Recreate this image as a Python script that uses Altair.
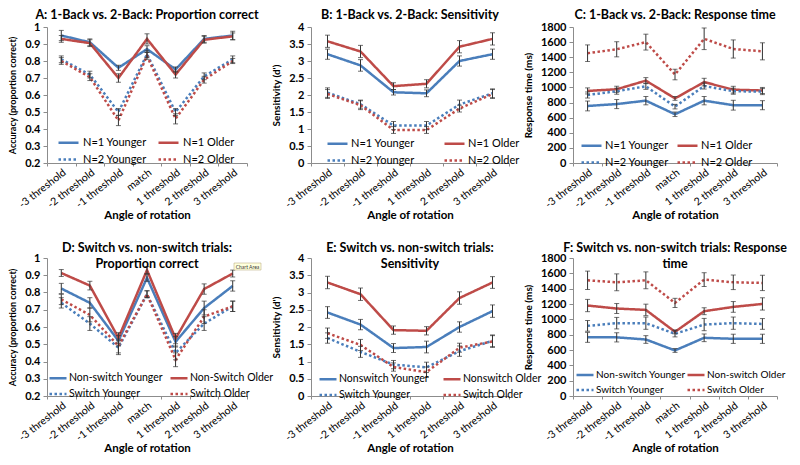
import altair as alt
import pandas as pd

FONT = "Lato"
BLUE = "#4a7ebb"
RED = "#be4b48"
ERRC = "#333333"

CATS7 = ["-3 threshold", "-2 threshold", "-1 threshold", "match", "1 threshold", "2 threshold", "3 threshold"]
CATS6 = ["-3 threshold", "-2 threshold", "-1 threshold", "1 threshold", "2 threshold", "3 threshold"]

# ---------- Panel A: 1-Back vs 2-Back, proportion correct ----------
A_SERIES = ["N=1 Younger", "N=1 Older", "N=2 Younger", "N=2 Older"]
A_N1_Y = [0.95, 0.91, 0.76, 0.87, 0.75, 0.93, 0.95]
A_N1_Y_E = [0.03, 0.02, 0.015, 0.02, 0.015, 0.02, 0.025]
A_N1_O = [0.93, 0.905, 0.70, 0.93, 0.72, 0.925, 0.945]
A_N1_O_E = [0.02, 0.02, 0.025, 0.03, 0.02, 0.02, 0.02]
A_N2_Y = [0.81, 0.72, 0.50, 0.84, 0.50, 0.71, 0.81]
A_N2_Y_E = [0.02, 0.02, 0.02, 0.02, 0.02, 0.02, 0.02]
A_N2_O = [0.80, 0.705, 0.45, 0.83, 0.46, 0.69, 0.80]
A_N2_O_E = [0.02, 0.02, 0.03, 0.02, 0.03, 0.02, 0.015]

# ---------- Panel B: 1-Back vs 2-Back, sensitivity ----------
B_N1_Y = [3.20, 2.87, 2.08, 2.05, 3.00, 3.20]
B_N1_Y_E = [0.15, 0.17, 0.08, 0.10, 0.15, 0.15]
B_N1_O = [3.58, 3.28, 2.26, 2.33, 3.42, 3.65]
B_N1_O_E = [0.18, 0.18, 0.10, 0.12, 0.18, 0.18]
B_N2_Y = [2.07, 1.73, 1.10, 1.10, 1.72, 2.05]
B_N2_Y_E = [0.14, 0.12, 0.12, 0.12, 0.13, 0.13]
B_N2_O = [2.03, 1.70, 0.97, 0.97, 1.60, 2.03]
B_N2_O_E = [0.13, 0.13, 0.10, 0.10, 0.10, 0.13]

# ---------- Panel C: 1-Back vs 2-Back, response time ----------
C_N1_Y = [755, 780, 825, 645, 825, 765, 765]
C_N1_Y_E = [65, 60, 55, 30, 55, 65, 60]
C_N1_O = [954, 976, 1090, 855, 1071, 970, 960]
C_N1_O_E = [40, 40, 40, 25, 50, 45, 40]
C_N2_Y = [900, 950, 1015, 746, 1019, 950, 945]
C_N2_Y_E = [40, 40, 40, 30, 40, 40, 40]
C_N2_O = [1453, 1505, 1600, 1171, 1644, 1509, 1478]
C_N2_O_E = [110, 100, 105, 70, 143, 120, 113]

# ---------- Panel D: switch vs non-switch, proportion correct ----------
D_SERIES = ["Non-switch Younger", "Non-Switch Older", "Switch Younger", "Switch Older"]
D_NS_Y = [0.823, 0.74, 0.52, 0.885, 0.514, 0.71, 0.838]
D_NS_Y_E = [0.03, 0.03, 0.03, 0.02, 0.03, 0.04, 0.03]
D_NS_O = [0.913, 0.84, 0.537, 0.93, 0.533, 0.82, 0.91]
D_NS_O_E = [0.02, 0.025, 0.03, 0.02, 0.03, 0.03, 0.02]
D_SW_Y = [0.74, 0.62, 0.48, 0.79, 0.45, 0.62, 0.72]
D_SW_Y_E = [0.03, 0.04, 0.04, 0.02, 0.04, 0.04, 0.03]
D_SW_O = [0.76, 0.67, 0.49, 0.79, 0.41, 0.66, 0.72]
D_SW_O_E = [0.03, 0.04, 0.04, 0.02, 0.04, 0.04, 0.03]

# ---------- Panel E: switch vs non-switch, sensitivity ----------
E_SERIES = ["Nonswitch Younger", "Nonswitch Older", "Switch Younger", "Switch Older"]
E_NS_Y = [2.42, 2.07, 1.39, 1.42, 2.00, 2.46]
E_NS_Y_E = [0.17, 0.15, 0.13, 0.17, 0.15, 0.18]
E_NS_O = [3.29, 2.95, 1.91, 1.89, 2.84, 3.29]
E_NS_O_E = [0.18, 0.18, 0.12, 0.12, 0.18, 0.17]
E_SW_Y = [1.68, 1.28, 0.91, 0.83, 1.30, 1.60]
E_SW_Y_E = [0.15, 0.16, 0.12, 0.15, 0.15, 0.17]
E_SW_O = [1.82, 1.48, 0.84, 0.69, 1.40, 1.58]
E_SW_O_E = [0.15, 0.16, 0.12, 0.15, 0.13, 0.17]

# ---------- Panel F: switch vs non-switch, response time ----------
F_SERIES = ["Non-switch Younger", "Non-switch Older", "Switch Younger", "Switch Older"]
F_NS_Y = [765, 765, 737, 594, 759, 746, 746]
F_NS_Y_E = [65, 60, 50, 25, 50, 60, 60]
F_NS_O = [1180, 1141, 1123, 837, 1106, 1162, 1201]
F_NS_O_E = [80, 65, 75, 25, 45, 70, 80]
F_SW_Y = [915, 950, 950, 811, 932, 950, 940]
F_SW_Y_E = [70, 75, 80, 40, 80, 80, 70]
F_SW_O = [1509, 1483, 1509, 1214, 1518, 1483, 1475]
F_SW_O_E = [120, 110, 110, 60, 90, 95, 100]

ACC_TICKS = [0.2, 0.3, 0.4, 0.5, 0.6, 0.7, 0.8, 0.9, 1.0]
SENS_TICKS = [0, 0.5, 1, 1.5, 2, 2.5, 3, 3.5, 4]
RT_TICKS = [0, 200, 400, 600, 800, 1000, 1200, 1400, 1600, 1800]


def panel(title, cats, series, vals, errs, ytitle, ydom, yticks, yfmt, w, h,
          legx, legy, colpad, rowpad, symsize=400, laboff=2, legfont=11,
          ytfont=10, title_offset=0, extra=None):
    rows = []
    for s, v, e in zip(series, vals, errs):
        for c, vv, ee in zip(cats, v, e):
            rows.append({"cat": c, "series": s, "val": vv, "lo": vv - ee, "hi": vv + ee})
    df = pd.DataFrame(rows)
    xscale = alt.Scale(type="band", domain=cats, paddingInner=0, paddingOuter=0)
    xaxis = alt.Axis(title="Angle of rotation", labelAngle=-38, tickBand="extent",
                     labelPadding=1, tickSize=3, titlePadding=0, labelFontSize=10.5)
    xenc = alt.X("cat:N", sort=cats, scale=xscale, bandPosition=0.5, axis=xaxis)
    xtick = alt.X("cat:N", sort=cats, scale=xscale, axis=xaxis)
    yscale = alt.Scale(domain=ydom, zero=False, nice=False)
    yaxis = alt.Axis(title=ytitle, values=yticks, format=yfmt, tickSize=4,
                     labelPadding=3, titlePadding=7, labelOverlap=False,
                     labelFontWeight="bold", titleFontSize=ytfont)
    leg = alt.Legend(title=None, orient="none", legendX=legx, legendY=legy, columns=2,
                     direction="horizontal",
                     symbolType="stroke", symbolSize=symsize, symbolStrokeWidth=2.5,
                     labelFont=FONT, labelFontSize=legfont, labelColor="#000",
                     columnPadding=colpad, rowPadding=rowpad, labelOffset=laboff, padding=0)
    color = alt.Color("series:N", scale=alt.Scale(domain=series, range=[BLUE, RED, BLUE, RED]), legend=leg)
    dash = alt.StrokeDash("series:N", scale=alt.Scale(domain=series, range=[[1, 0], [1, 0], [2.5, 2.5], [2.5, 2.5]]),
                          legend=leg)
    base = alt.Chart(df)
    lines = base.mark_line(strokeWidth=2.5).encode(
        x=xenc, y=alt.Y("val:Q", scale=yscale, axis=yaxis), color=color, strokeDash=dash)
    rules = base.mark_rule(color=ERRC, strokeWidth=1).encode(
        x=xenc, y=alt.Y("lo:Q", scale=yscale, axis=yaxis), y2="hi:Q")
    tlo = base.mark_tick(color=ERRC, size=5, thickness=1).encode(
        x=xtick, y=alt.Y("lo:Q", scale=yscale, axis=yaxis))
    thi = base.mark_tick(color=ERRC, size=5, thickness=1).encode(
        x=xtick, y=alt.Y("hi:Q", scale=yscale, axis=yaxis))
    layers = [lines, rules, tlo, thi]
    if extra is not None:
        layers += extra
    return alt.layer(*layers).properties(
        width=w, height=h,
        title=alt.TitleParams(title, anchor="middle", offset=title_offset),
    )


TOP_H = 136
BOT_H = 138

A = panel("A: 1-Back vs. 2-Back: Proportion correct", CATS7, A_SERIES,
          [A_N1_Y, A_N1_O, A_N2_Y, A_N2_O], [A_N1_Y_E, A_N1_O_E, A_N2_Y_E, A_N2_O_E],
          "Accuracy (proportion correct)", [0.2, 1.0], ACC_TICKS, ".1~f", 200, TOP_H,
          10, 104, 6, -2, laboff=3, ytfont=9, title_offset=0)
B = panel("B: 1-Back vs. 2-Back: Sensitivity", CATS6, A_SERIES,
          [B_N1_Y, B_N1_O, B_N2_Y, B_N2_O], [B_N1_Y_E, B_N1_O_E, B_N2_Y_E, B_N2_O_E],
          "Sensitivity (d')", [0, 4], SENS_TICKS, ".1~f", 198, TOP_H,
          15, 105, 24, 0, title_offset=0)
C = panel("C: 1-Back vs. 2-Back: Response time", CATS7, A_SERIES,
          [C_N1_Y, C_N1_O, C_N2_Y, C_N2_O], [C_N1_Y_E, C_N1_O_E, C_N2_Y_E, C_N2_O_E],
          "Response time (ms)", [0, 1800], RT_TICKS, "d", 204, TOP_H,
          7, 107, 3, -2, title_offset=0)

tip_rect = alt.Chart(pd.DataFrame({"t": ["Chart Area"]})).mark_rect(
    fill="#ffffdd", stroke="#b0a070", strokeWidth=0.5).encode(
    x=alt.value(187), x2=alt.value(214), y=alt.value(5), y2=alt.value(12))
tip_text = alt.Chart(pd.DataFrame({"t": ["Chart Area"]})).mark_text(
    fontSize=5, font=FONT, color="#333").encode(x=alt.value(200.5), y=alt.value(8.5), text="t:N")

D = panel(["D: Switch vs. non-switch trials:", "Proportion correct"], CATS7, D_SERIES,
          [D_NS_Y, D_NS_O, D_SW_Y, D_SW_O], [D_NS_Y_E, D_NS_O_E, D_SW_Y_E, D_SW_O_E],
          "Accuracy (proportion correct)", [0.2, 1.0], ACC_TICKS, ".1~f", 200, BOT_H,
          1, 110, 2, -3, symsize=289, laboff=1, legfont=10.5, ytfont=9,
          title_offset=-18, extra=[tip_rect, tip_text])
E = panel(["E: Switch vs. non-switch trials:", "Sensitivity"], CATS6, E_SERIES,
          [E_NS_Y, E_NS_O, E_SW_Y, E_SW_O], [E_NS_Y_E, E_NS_O_E, E_SW_Y_E, E_SW_O_E],
          "Sensitivity (d')", [0, 4], SENS_TICKS, ".1~f", 198, BOT_H,
          7, 111, 8, -2, symsize=289, laboff=1, legfont=10.5, title_offset=-18)
F = panel(["F: Switch vs. non-switch trials: Response", "time"], CATS7, F_SERIES,
          [F_NS_Y, F_NS_O, F_SW_Y, F_SW_O], [F_NS_Y_E, F_NS_O_E, F_SW_Y_E, F_SW_O_E],
          "Response time (ms)", [0, 1800], RT_TICKS, "d", 204, BOT_H,
          2, 107, -4, -1, symsize=289, laboff=1, legfont=10, title_offset=-18)

chart = alt.concat(A, B, C, D, E, F, columns=3, bounds="flush",
                   spacing={"row": 95, "column": 64}).resolve_scale(
    color="independent", strokeDash="independent"
).properties(padding=0).configure_axis(
    labelFont=FONT, titleFont=FONT, labelFontSize=11, titleFontSize=11.5,
    labelColor="#000", titleColor="#000", domainColor="#8c8c8c", tickColor="#8c8c8c",
    grid=False, titleFontWeight="bold"
).configure_view(stroke=None).configure_title(
    font=FONT, fontSize=12.5, fontWeight="bold", color="#000", lineHeight=16
)

chart.save("out.html", embed_options={"renderer": "svg", "actions": False})
